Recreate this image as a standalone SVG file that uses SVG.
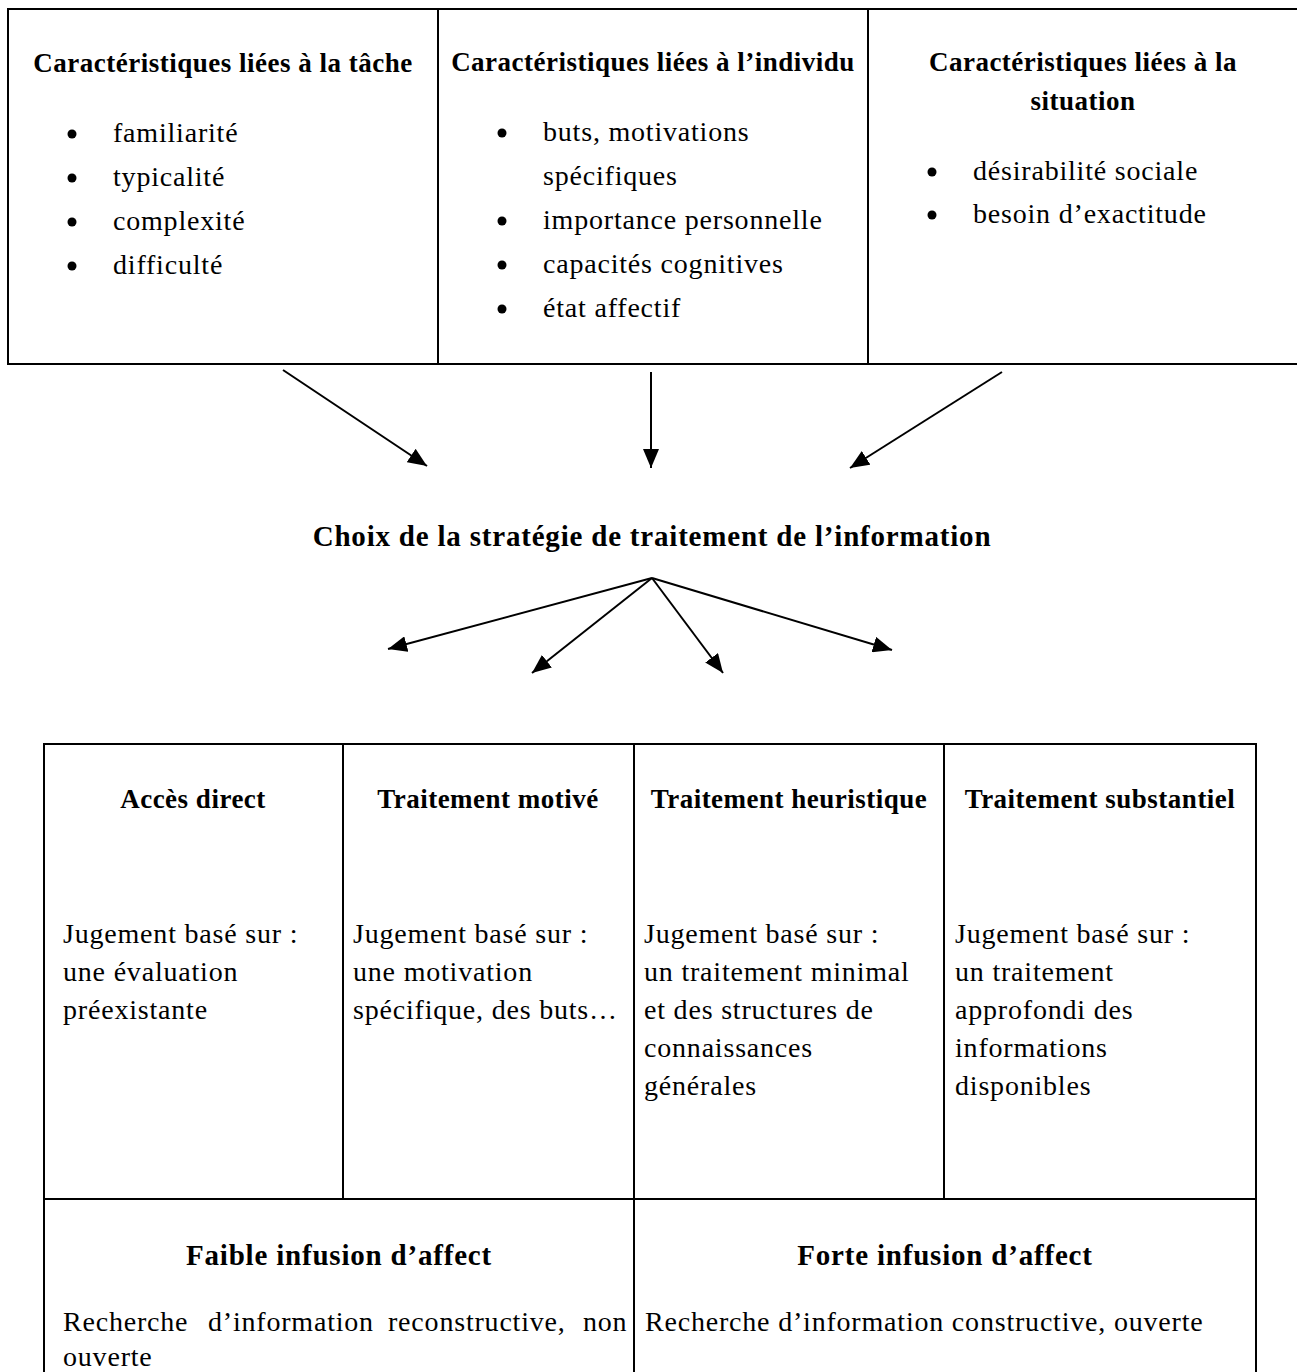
<svg xmlns="http://www.w3.org/2000/svg" width="1297" height="1372" viewBox="0 0 1297 1372">
<style>
  .frame { fill: none; stroke: #000; stroke-width: 2; }
  .rule { stroke: #000; stroke-width: 2; fill: none; }
  .h { font-family: "Liberation Serif", "Times New Roman", serif; font-weight: bold; font-size: 27px; letter-spacing: 0.5px; text-anchor: middle; fill: #000; }
  .hb { font-family: "Liberation Serif", "Times New Roman", serif; font-weight: bold; font-size: 29px; letter-spacing: 0.8px; text-anchor: middle; fill: #000; }
  .t { font-family: "Liberation Serif", "Times New Roman", serif; font-size: 28px; letter-spacing: 0.8px; fill: #000; }
  .dot { fill: #000; }
  .arrow { stroke: #000; stroke-width: 2; fill: none; marker-end: url(#head); }
</style>
<defs>
  <marker id="head" markerUnits="userSpaceOnUse" markerWidth="20" markerHeight="16" viewBox="0 0 20 16" refX="19" refY="8" orient="auto">
    <path d="M0,0 L19,8 L0,16 Z" fill="#000"/>
  </marker>
</defs>
<rect width="1297" height="1372" fill="#fff"/>

<g id="top-table">
  <rect class="frame" x="8" y="9" width="1292" height="355"/>
  <line class="rule" x1="438" y1="9" x2="438" y2="364"/>
  <line class="rule" x1="868" y1="9" x2="868" y2="364"/>
</g>

<g id="node-tache">
  <text class="h" x="223" y="72">Caractéristiques liées à la tâche</text>
  <circle class="dot" cx="72" cy="134" r="4.5"/>
  <text class="t" x="113" y="142">familiarité</text>
  <circle class="dot" cx="72" cy="178" r="4.5"/>
  <text class="t" x="113" y="186">typicalité</text>
  <circle class="dot" cx="72" cy="222" r="4.5"/>
  <text class="t" x="113" y="230">complexité</text>
  <circle class="dot" cx="72" cy="266" r="4.5"/>
  <text class="t" x="113" y="274">difficulté</text>
</g>

<g id="node-individu">
  <text class="h" x="653" y="71">Caractéristiques liées à l’individu</text>
  <circle class="dot" cx="502" cy="133" r="4.5"/>
  <text class="t" x="543" y="141">buts, motivations</text>
  <text class="t" x="543" y="185">spécifiques</text>
  <circle class="dot" cx="502" cy="221" r="4.5"/>
  <text class="t" x="543" y="229">importance personnelle</text>
  <circle class="dot" cx="502" cy="265" r="4.5"/>
  <text class="t" x="543" y="273">capacités cognitives</text>
  <circle class="dot" cx="502" cy="309" r="4.5"/>
  <text class="t" x="543" y="317">état affectif</text>
</g>

<g id="node-situation">
  <text class="h" x="1083" y="71">Caractéristiques liées à la</text>
  <text class="h" x="1083" y="110">situation</text>
  <circle class="dot" cx="932" cy="172" r="4.5"/>
  <text class="t" x="973" y="180">désirabilité sociale</text>
  <circle class="dot" cx="932" cy="215" r="4.5"/>
  <text class="t" x="973" y="223">besoin d’exactitude</text>
</g>

<g id="node-choix">
  <text class="hb" x="652" y="546">Choix de la stratégie de traitement de l’information</text>
</g>

<g id="bottom-table">
  <rect class="frame" x="44" y="744" width="1212" height="640"/>
  <line class="rule" x1="343" y1="744" x2="343" y2="1199"/>
  <line class="rule" x1="634" y1="744" x2="634" y2="1384"/>
  <line class="rule" x1="944" y1="744" x2="944" y2="1199"/>
  <line class="rule" x1="44" y1="1199" x2="1256" y2="1199"/>
</g>

<g id="node-acces">
  <text class="h" x="193" y="808">Accès direct</text>
  <text class="t" x="63" y="943">Jugement basé sur :</text>
  <text class="t" x="63" y="981">une évaluation</text>
  <text class="t" x="63" y="1019">préexistante</text>
</g>

<g id="node-motive">
  <text class="h" x="488" y="808">Traitement motivé</text>
  <text class="t" x="353" y="943">Jugement basé sur :</text>
  <text class="t" x="353" y="981">une motivation</text>
  <text class="t" x="353" y="1019">spécifique, des buts…</text>
</g>

<g id="node-heuristique">
  <text class="h" x="789" y="808">Traitement heuristique</text>
  <text class="t" x="644" y="943">Jugement basé sur :</text>
  <text class="t" x="644" y="981">un traitement minimal</text>
  <text class="t" x="644" y="1019">et des structures de</text>
  <text class="t" x="644" y="1057">connaissances</text>
  <text class="t" x="644" y="1095">générales</text>
</g>

<g id="node-substantiel">
  <text class="h" x="1100" y="808">Traitement substantiel</text>
  <text class="t" x="955" y="943">Jugement basé sur :</text>
  <text class="t" x="955" y="981">un traitement</text>
  <text class="t" x="955" y="1019">approfondi des</text>
  <text class="t" x="955" y="1057">informations</text>
  <text class="t" x="955" y="1095">disponibles</text>
</g>

<g id="node-faible">
  <text class="hb" x="339" y="1265">Faible infusion d’affect</text>
  <text class="t" y="1331"><tspan x="63">Recherche</tspan><tspan x="208">d’information</tspan><tspan x="388">reconstructive,</tspan><tspan x="583">non</tspan></text>
  <text class="t" x="63" y="1366">ouverte</text>
</g>

<g id="node-forte">
  <text class="hb" x="945" y="1265">Forte infusion d’affect</text>
  <text class="t" x="645" y="1331">Recherche d’information constructive, ouverte</text>
</g>

<g id="connectors">
  <line class="arrow" x1="283" y1="370" x2="427" y2="466"/>
  <line class="arrow" x1="651" y1="372" x2="651" y2="468"/>
  <line class="arrow" x1="1002" y1="372" x2="850" y2="468"/>
  <line class="arrow" x1="652" y1="578" x2="388" y2="649"/>
  <line class="arrow" x1="652" y1="578" x2="532" y2="673"/>
  <line class="arrow" x1="652" y1="578" x2="723" y2="673"/>
  <line class="arrow" x1="652" y1="578" x2="892" y2="650"/>
</g>
</svg>
